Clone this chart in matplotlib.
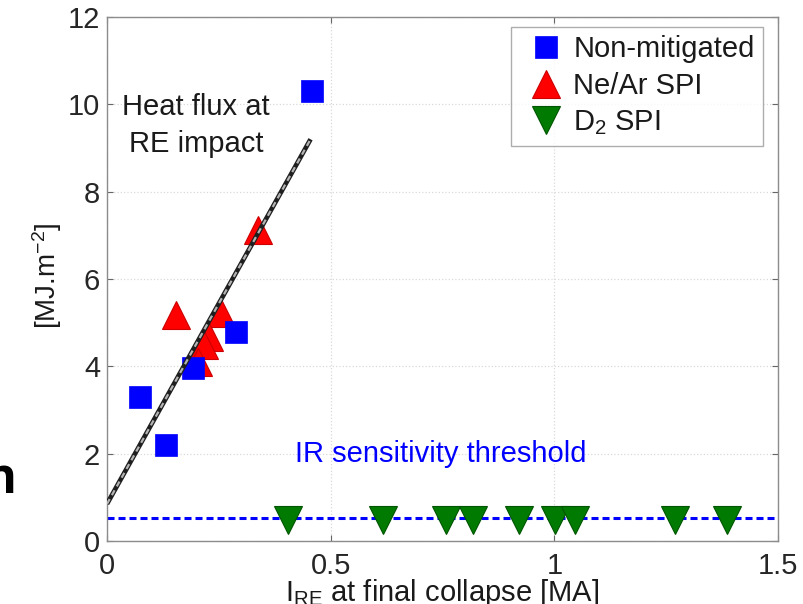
import matplotlib
matplotlib.use("Agg")
import matplotlib.pyplot as plt

plt.rcParams['font.family'] = ['Liberation Sans', 'DejaVu Sans']
plt.rcParams['mathtext.fontset'] = 'custom'
plt.rcParams['mathtext.rm'] = 'Liberation Sans'
plt.rcParams['mathtext.it'] = 'Liberation Sans:italic'

# ---- data ----
nonmit_x = [0.074, 0.132, 0.192, 0.288, 0.458]
nonmit_y = [3.30, 2.20, 3.96, 4.78, 10.30]

near_x = [0.154, 0.337, 0.254, 0.228, 0.217, 0.203]
near_y = [5.17, 7.12, 5.22, 4.67, 4.49, 4.10]

d2_x = [0.404, 0.616, 0.757, 0.819, 0.922, 1.002, 1.047, 1.27, 1.386]
d2_y = [0.48, 0.48, 0.48, 0.48, 0.48, 0.48, 0.48, 0.48, 0.48]

fit_x = [0.0, 0.455]
fit_y = [0.85, 9.2]

threshold = 0.53

x_ticks = [0, 0.5, 1, 1.5]
x_ticklabels = ['0', '0.5', '1', '1.5']
y_ticks = [0, 2, 4, 6, 8, 10, 12]

# ---- figure ----
fig = plt.figure(figsize=(8.04, 6.04), dpi=100)
W, H = 804, 604
ax = fig.add_axes([107 / W, 1 - 541 / H, (778 - 107) / W, (541 - 17) / H])

ax.set_xlim(0, 1.5)
ax.set_ylim(0, 12)
ax.set_xticks(x_ticks)
ax.set_xticklabels(x_ticklabels)
ax.set_yticks(y_ticks)
ax.grid(True, color='0.85', ls=':', lw=0.9)
ax.set_axisbelow(True)
for s in ax.spines.values():
    s.set_color('0.55')
    s.set_linewidth(1.0)
ax.tick_params(direction='in', length=4, width=0.8, color='0.4',
               top=True, right=True, labelsize=21, labelcolor='0.15')
ax.tick_params(axis='x', pad=8)
ax.tick_params(axis='y', pad=5)

ax.axhline(threshold, color='#0000ff', lw=2.2, ls=(0, (2.3, 1.3)), zorder=2)

ax.plot(near_x, near_y, ls='none', marker='^', ms=20, mfc='#ff0000',
        mec='#cc0000', mew=0.8, zorder=3, label='Ne/Ar SPI')
ax.plot(d2_x, d2_y, ls='none', marker='v', ms=20, mfc='#007a00',
        mec='#005500', mew=0.8, zorder=3, label='D$_2$ SPI')
ax.plot(nonmit_x, nonmit_y, ls='none', marker='s', ms=15.5, mfc='#0000ff',
        mec='#0000ff', mew=0.5, zorder=4, label='Non-mitigated')

ax.plot(fit_x, fit_y, color='0.12', lw=3.4, zorder=5, solid_capstyle='butt')
ax.plot(fit_x, fit_y, color='0.7', lw=1.6, ls=(0, (2.5, 2)), zorder=6)

handles, labels = ax.get_legend_handles_labels()
order = [2, 0, 1]
leg = ax.legend([handles[i] for i in order], [labels[i] for i in order],
                loc='upper right', bbox_to_anchor=(763 / W, 1 - 27 / H),
                bbox_transform=fig.transFigure, fontsize=21,
                frameon=True, fancybox=False, edgecolor='0.6',
                handlelength=1.85, handletextpad=0.0, labelspacing=0.3,
                borderpad=0.28, borderaxespad=0.0, numpoints=1)
leg.get_frame().set_linewidth(1.0)
for t in leg.get_texts():
    t.set_color('0.1')

ax.text(0.199, 9.52, 'Heat flux at\nRE impact', ha='center', va='center',
        multialignment='center', fontsize=21, color='0.1', linespacing=1.4,
        zorder=7)
ax.text(0.745, 1.82, 'IR sensitivity threshold', ha='center', va='baseline',
        fontsize=21, color='#0000ff', zorder=7)

fig.text(442 / W, 1 - 601 / H, 'I$_{\\mathrm{RE}}$ at final collapse [MA]',
         ha='center', va='baseline', fontsize=21, color='0.1')
fig.text(47 / W, 1 - 276 / H, '[MJ.m$^{-2}$]', ha='center', va='center',
         rotation=90, fontsize=20, color='0.1')

fig.text(16 / W, 1 - 493 / H, 'n', ha='right', va='baseline',
         fontsize=35, fontweight='bold', family=['Open Sans', 'DejaVu Sans'],
         color='black')

fig.savefig('out.png', dpi=100)
